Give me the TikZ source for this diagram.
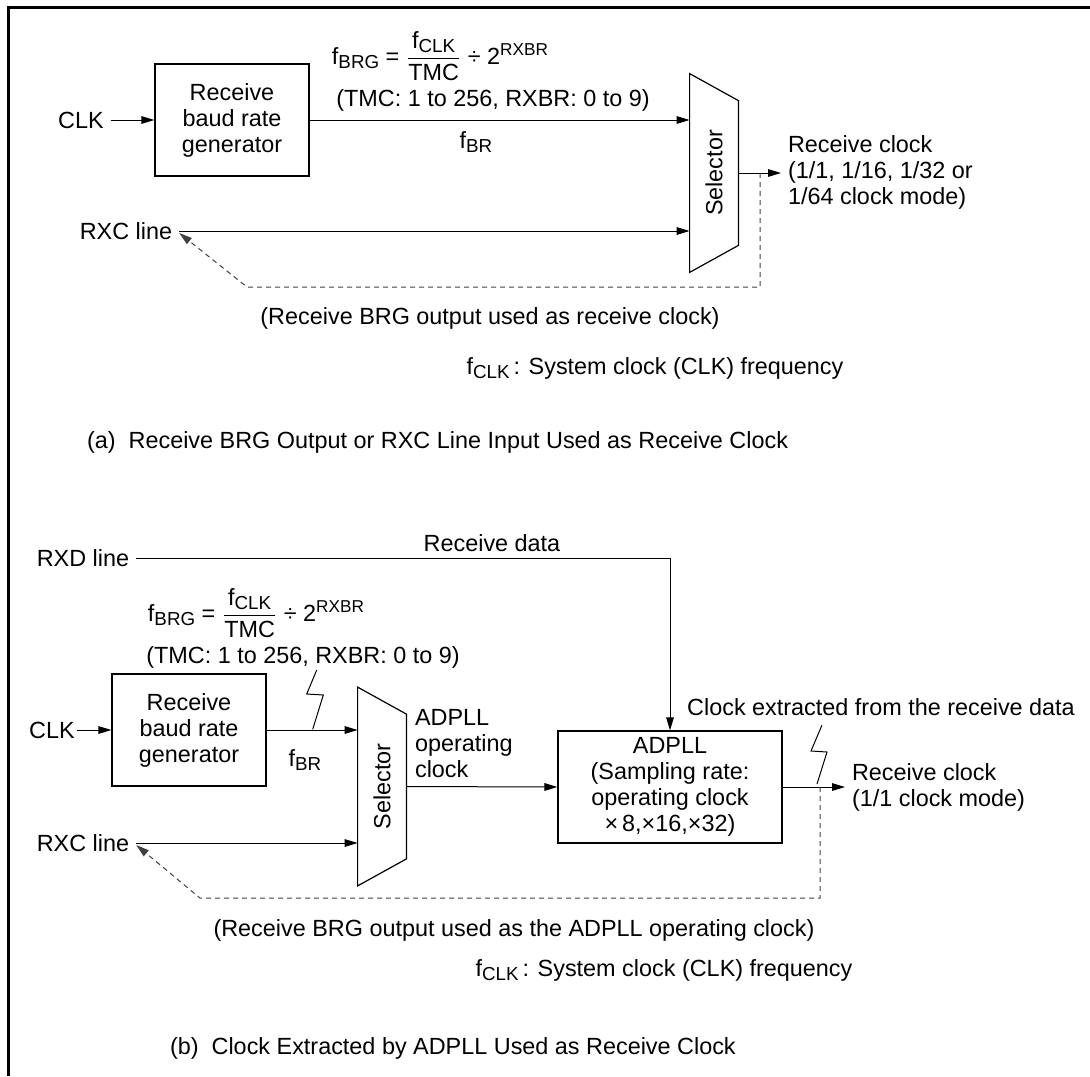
\documentclass[tikz,border=0pt]{standalone}
\usepackage{amsmath}
\usepackage{fontspec}
\setmainfont{Liberation Sans}
\usepackage{tikz}
\usetikzlibrary{arrows.meta,positioning}
\newcommand{\lowtxt}[1]{\raisebox{-2.2pt}{\fontsize{9.4pt}{9.4pt}\selectfont #1}}
\newcommand{\hightxt}[1]{\raisebox{4.6pt}{\fontsize{8.6pt}{8.6pt}\selectfont #1}}

\begin{document}
\begin{tikzpicture}[x=0.5pt,y=-0.5pt,font=\fontsize{11.7pt}{13pt}\selectfont,
  blk/.style={draw,line width=0.6pt,align=center,inner sep=0pt},
  brgbox/.style={blk,minimum width=77pt,minimum height=56pt},
  selbox/.style={inner sep=0pt,minimum width=24pt,minimum height=99pt},
  sig/.style={line width=0.5pt,-{Triangle[length=6.5pt,width=3.8pt]}},
  back/.style={line width=0.5pt,black!75,dash pattern=on 2.5pt off 2pt,-{Triangle[length=6.5pt,width=3.8pt]}},
  bolt/.style={line width=0.5pt}]
  \useasboundingbox (0,0) rectangle (1090,1076);
  \draw[line width=1.65pt] (8.3,1076) -- (8.3,7.3) -- (1090,7.3);

  % (a) BRG output or RXC line input
  \node (clkA) at (81,120) {CLK};
  \node[brgbox] (brgA) at (232,120) {Receive\\baud rate\\generator};
  \node[selbox] (selA) at (714,173) {\rotatebox{90}{Selector}};
  \draw[line width=0.6pt] (selA.north west) -- ([yshift=-13.5pt]selA.north east)
    -- ([yshift=13.5pt]selA.south east) -- (selA.south west) -- cycle;
  \draw[sig] (clkA) -- (brgA);
  \draw[sig] (brgA.east) -- (brgA.east -| selA.west);
  \node (frmA) at (440,56) {f\lowtxt{BRG} = $\dfrac{\text{f\lowtxt{CLK}}}{\text{TMC}}$ ÷ 2\hightxt{RXBR}};
  \node (rngA) at (493,100) {(TMC: 1 to 256, RXBR: 0 to 9)};
  \node (fbrA) at (476,142) {f\lowtxt{BR}};
  \node (rxcA) at (126,231) {RXC line};
  \draw[sig] (rxcA.east) -- (rxcA.east -| selA.west);
  \node[anchor=west,align=left] (rclkA) at (781,172) {Receive clock\\(1/1, 1/16, 1/32 or\\1/64 clock mode)};
  \draw[sig] (selA.east) -- (selA.east -| rclkA.west);
  \coordinate (tapA) at (760,173);
  \coordinate (dipA) at (247,287);
  \draw[back] (tapA) |- (dipA) -- ([yshift=-1pt]rxcA.east);
  \node (noteA) at (490,318) {(Receive BRG output used as receive clock)};
  \node (fclkA) at (655,368) {f\lowtxt{CLK}\,: System clock (CLK) frequency};
  \node[anchor=west] (capA) at (80,442) {(a)\ \ Receive BRG Output or RXC Line Input Used as Receive Clock};

  % (b) clock extracted by ADPLL
  \node (rxd) at (83,558) {RXD line};
  \node (rxdata) at (492,543) {Receive data};
  \node[blk,minimum width=112pt,minimum height=56pt] (adpll) at (670,787) {ADPLL\\(Sampling rate:\\operating clock\\×\,8,×16,×32)};
  \draw[sig] (rxd.east) -| (adpll.north);
  \node (frmB) at (256,613) {f\lowtxt{BRG} = $\dfrac{\text{f\lowtxt{CLK}}}{\text{TMC}}$ ÷ 2\hightxt{RXBR}};
  \node (rngB) at (303,657) {(TMC: 1 to 256, RXBR: 0 to 9)};
  \node[inner xsep=1pt] (clkB) at (52,730) {CLK};
  \node[brgbox] (brgB) at (189,730) {Receive\\baud rate\\generator};
  \draw[sig] (clkB) -- (brgB);
  \node[selbox] (selB) at (382,786.5) {\rotatebox{90}{Selector}};
  \draw[line width=0.6pt] (selB.north west) -- ([yshift=-13.5pt]selB.north east)
    -- ([yshift=13.5pt]selB.south east) -- (selB.south west) -- cycle;
  \draw[sig] (brgB.east) -- (brgB.east -| selB.west);
  \draw[bolt] (312.7,729.3) -- (323.3,695) -- (306.7,694) -- (316.7,670);
  \node (fbrB) at (305,760) {f\lowtxt{BR}};
  \node (rxcB) at (83,843) {RXC line};
  \draw[sig] (rxcB.east) -- (rxcB.east -| selB.west);
  \node[anchor=west,align=left] (opclk) at (408,744) {ADPLL\\operating\\clock};
  \draw[sig] (selB.east) -- (adpll.west);
  \node[anchor=west,align=left] (rclkB) at (845,787) {Receive clock\\(1/1 clock mode)};
  \draw[sig] (adpll.east) -- (rclkB.west);
  \node (xtract) at (881,707) {Clock extracted from the receive data};
  \draw[bolt] (817,784) -- (827,752) -- (811,751) -- (822,725);
  \coordinate (tapB) at (820,787);
  \coordinate (dipB) at (200,898);
  \draw[back] (tapB) |- (dipB) -- ([yshift=-1pt]rxcB.east);
  \node (noteB) at (514,930) {(Receive BRG output used as the ADPLL operating clock)};
  \node (fclkB) at (664,970) {f\lowtxt{CLK}\,: System clock (CLK) frequency};
  \node[anchor=west] (capB) at (163,1048) {(b)\ \ Clock Extracted by ADPLL Used as Receive Clock};
\end{tikzpicture}
\end{document}
